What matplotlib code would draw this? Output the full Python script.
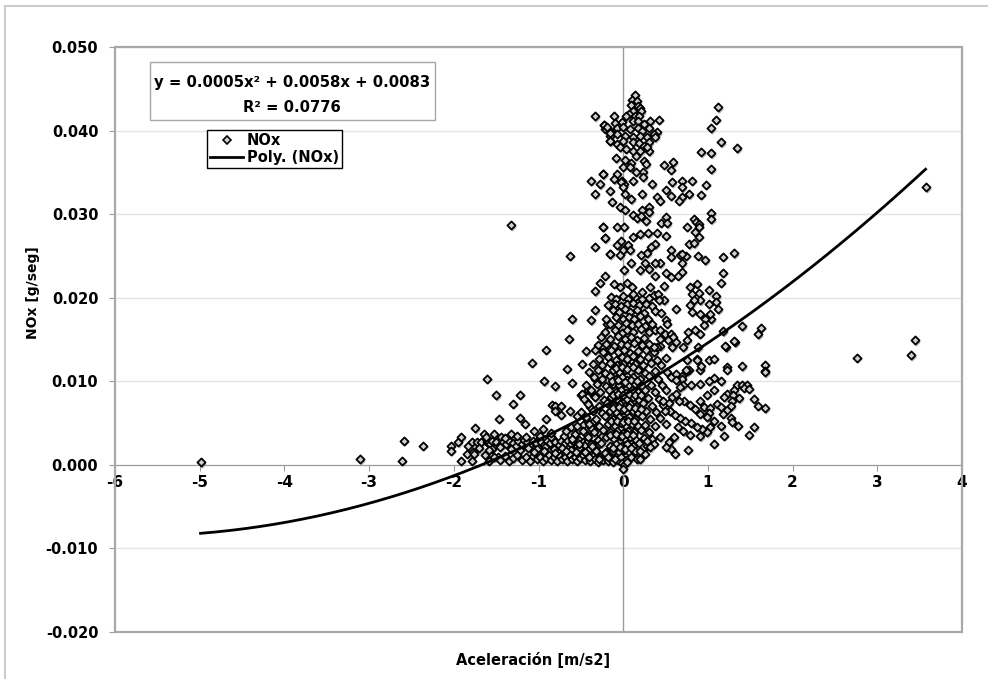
import numpy as np
import matplotlib
matplotlib.use("Agg")
import matplotlib.pyplot as plt
from matplotlib.lines import Line2D
from matplotlib.patches import Rectangle
from matplotlib.transforms import offset_copy

plt.rcParams["font.family"] = ["DejaVu Sans"]
plt.rcParams["font.weight"] = "bold"
plt.rcParams["axes.unicode_minus"] = False

# --- data (aceleracion m/s2, NOx g/seg) ---
outliers = [(-4.99, 0.0003), (-3.11, 0.0007), (-2.61, 0.0005), (-2.59, 0.0029),
            (-2.36, 0.0023), (-1.33, 0.0287), (2.76, 0.0128), (3.40, 0.0131),
            (3.45, 0.0149), (3.57, 0.0332)]

top_cluster = [
    (0.145, 0.0442), (0.10, 0.0436), (0.16, 0.0435), (0.09, 0.0431), (0.17, 0.0429),
    (0.20, 0.0427), (0.12, 0.0424), (0.21, 0.0423), (0.07, 0.0420), (-0.11, 0.0417),
    (0.035, 0.0417), (0.14, 0.0418), (0.19, 0.0418), (0.42, 0.0413), (-0.23, 0.0407),
    (-0.10, 0.0409), (-0.01, 0.0410), (0.11, 0.0411), (0.17, 0.0411), (0.32, 0.0411),
    (0.24, 0.0408), (-0.22, 0.0402), (-0.16, 0.0400), (-0.07, 0.0403), (0.0, 0.0404),
    (0.08, 0.0402), (0.17, 0.0403), (0.22, 0.0400), (0.31, 0.0403), (0.40, 0.0398),
    (0.36, 0.0396), (-0.16, 0.0393), (-0.07, 0.0396), (0.02, 0.0393), (0.11, 0.0392),
    (0.20, 0.0394), (0.28, 0.0392), (0.37, 0.0392), (-0.15, 0.0387), (-0.07, 0.0384),
    (0.0, 0.0387), (0.11, 0.0386), (0.19, 0.0385), (0.30, 0.0386), (0.25, 0.0381),
    (-0.04, 0.0380), (0.035, 0.0378), (0.12, 0.0375), (0.20, 0.0375), (0.30, 0.0375),
    (0.28, 0.0380), (-0.09, 0.0367), (0.02, 0.0365), (0.09, 0.0361), (0.15, 0.0370),
    (0.24, 0.0364), (0.27, 0.0360), (0.0, 0.0357), (0.08, 0.0356), (-0.24, 0.0348),
    (-0.07, 0.0348), (-0.11, 0.0342), (-0.02, 0.0340), (0.01, 0.0336), (0.12, 0.0340),
    (0.23, 0.0350), (0.23, 0.0344), (0.15, 0.0351), (0.48, 0.0359), (0.59, 0.0362),
    (0.56, 0.0353), (0.92, 0.0374), (1.04, 0.0373), (1.15, 0.0386), (1.34, 0.0379),
    (1.04, 0.0354), (1.04, 0.0403), (1.10, 0.0413), (1.12, 0.0428), (-0.33, 0.0417),
    (-0.23, 0.0407), (-0.19, 0.0404), (-0.16, 0.0397), (-0.16, 0.0388), (-0.38, 0.0340),
    (-0.27, 0.0336), (-0.24, 0.0348), (-0.33, 0.0324), (-0.16, 0.0328),
]

upper_spread = [
    (-0.03, 0.0338), (0.0, 0.0332), (0.34, 0.0336), (0.58, 0.0338), (0.70, 0.0340),
    (0.81, 0.0340), (0.98, 0.0335), (0.02, 0.0324), (0.09, 0.0318), (0.22, 0.0324),
    (0.40, 0.0321), (0.43, 0.0316), (0.51, 0.0329), (0.56, 0.0322), (0.70, 0.0332),
    (0.78, 0.0324), (0.92, 0.0323), (0.70, 0.0320), (0.66, 0.0316), (-0.13, 0.0315),
    (-0.04, 0.0308), (0.02, 0.0305), (0.12, 0.0299), (0.16, 0.0295), (0.22, 0.0305),
    (0.31, 0.0308), (0.31, 0.0302), (0.21, 0.0298), (0.27, 0.0292), (0.50, 0.0297),
    (0.45, 0.0290), (0.52, 0.0289), (0.84, 0.0294), (0.86, 0.0291), (0.89, 0.0288),
    (0.89, 0.0285), (0.85, 0.0279), (0.90, 0.0273), (0.78, 0.0264), (0.84, 0.0265),
    (1.04, 0.0301), (1.04, 0.0294), (0.75, 0.0285), (-0.24, 0.0285), (-0.07, 0.0285),
    (0.01, 0.0285), (-0.22, 0.0271), (-0.07, 0.0263), (-0.03, 0.0268), (0.06, 0.0263),
    (0.0, 0.0257), (0.08, 0.0257), (0.12, 0.0273), (0.20, 0.0276), (0.29, 0.0277),
    (0.40, 0.0278), (0.51, 0.0274), (0.37, 0.0264), (0.33, 0.0261), (0.28, 0.0253),
    (0.21, 0.0251), (0.56, 0.0257), (0.56, 0.0249), (0.67, 0.0251), (0.74, 0.0250),
    (0.88, 0.0250), (0.96, 0.0245), (0.70, 0.0241), (0.70, 0.0231), (0.57, 0.0225),
    (0.43, 0.0241), (0.37, 0.0241), (1.18, 0.0249), (1.31, 0.0253), (1.18, 0.0230),
    (-0.16, 0.0252), (-0.04, 0.0251), (0.01, 0.0233), (0.09, 0.0241), (0.20, 0.0233),
    (0.26, 0.0241), (0.30, 0.0234), (0.37, 0.0226), (0.50, 0.0230), (0.65, 0.0226),
    (-0.24, 0.0285), (-0.22, 0.0271), (-0.33, 0.0261), (-0.16, 0.0252), (-0.63, 0.0250),
    (-0.22, 0.0226), (0.70, 0.0252),
]

left_band = [
    (-2.03, 0.0023), (-2.03, 0.0017), (-1.95, 0.0027), (-1.91, 0.0033), (-1.91, 0.0005),
    (-1.85, 0.0013), (-1.83, 0.0023), (-1.78, 0.0005), (-1.77, 0.0015), (-1.76, 0.0013),
    (-1.75, 0.0044), (-1.78, 0.0027), (-1.73, 0.0027), (-1.68, 0.0027), (-1.64, 0.0037),
    (-1.63, 0.0012), (-1.61, 0.0027), (-1.60, 0.0029), (-1.57, 0.0025), (-1.55, 0.0019),
    (-1.55, 0.0029), (-1.52, 0.0037), (-1.50, 0.0027), (-1.48, 0.0010), (-1.46, 0.0024),
    (-1.44, 0.0033), (-1.42, 0.0027), (-1.38, 0.0025), (-1.35, 0.0029), (-1.33, 0.0037),
    (-1.30, 0.0026), (-1.27, 0.0022), (-1.24, 0.0028), (-1.20, 0.0025), (-1.17, 0.0030),
    (-1.13, 0.0027), (-1.10, 0.0024), (-1.07, 0.0029), (-1.03, 0.0026), (-1.00, 0.0031),
    (-0.97, 0.0027), (-0.93, 0.0024), (-0.90, 0.0029), (-0.86, 0.0026), (-0.83, 0.0031),
    (-0.80, 0.0027), (-0.76, 0.0024), (-0.73, 0.0029), (-0.69, 0.0026), (-0.66, 0.0030),
    (-0.62, 0.0025), (-0.59, 0.0028), (-0.55, 0.0023), (-0.52, 0.0030), (-0.48, 0.0027),
    (-0.45, 0.0024), (-0.41, 0.0029), (-0.38, 0.0025), (-0.34, 0.0022), (-0.31, 0.0028),
    (-0.28, 0.0025), (-1.70, 0.0020), (-1.58, 0.0018), (-1.45, 0.0021), (-1.33, 0.0019),
    (-1.22, 0.0018), (-1.12, 0.0020), (-1.02, 0.0019), (-0.92, 0.0021), (-0.82, 0.0019),
    (-0.72, 0.0020), (-0.62, 0.0018), (-0.52, 0.0020), (-0.42, 0.0018), (-1.62, 0.0033),
    (-1.40, 0.0032), (-1.25, 0.0034), (-1.15, 0.0033), (-0.98, 0.0035), (-0.85, 0.0033),
    (-0.70, 0.0034), (-0.58, 0.0032),
    (-1.58, 0.0005), (-1.52, 0.0009), (-1.45, 0.0006), (-1.40, 0.0011), (-1.35, 0.0005),
    (-1.30, 0.0008), (-1.25, 0.0012), (-1.20, 0.0006), (-1.15, 0.0009), (-1.10, 0.0005),
    (-1.06, 0.0011), (-1.02, 0.0007), (-0.98, 0.0010), (-0.95, 0.0005), (-0.91, 0.0008),
    (-0.88, 0.0012), (-0.85, 0.0006), (-0.82, 0.0009), (-0.78, 0.0005), (-0.75, 0.0011),
    (-0.72, 0.0007), (-0.69, 0.0009), (-0.66, 0.0005), (-0.63, 0.0012), (-0.60, 0.0007),
    (-0.57, 0.0010), (-0.54, 0.0005), (-0.51, 0.0008), (-0.48, 0.0012), (-0.45, 0.0006),
    (-0.42, 0.0009), (-0.39, 0.0005), (-0.36, 0.0011), (-0.33, 0.0007), (-0.30, 0.0004),
    (-0.27, 0.0010), (-0.24, 0.0006), (-0.21, 0.0012), (-0.18, 0.0005), (-0.15, 0.0009),
    (-0.12, 0.0004), (-0.09, 0.0011), (-0.06, 0.0006), (-1.05, 0.0015), (-0.93, 0.0016),
    (-0.80, 0.0014), (-0.68, 0.0016), (-0.56, 0.0015), (-0.44, 0.0014), (-0.32, 0.0016),
    (-0.20, 0.0015),
]

mid_left = [
    (-1.61, 0.0103), (-1.50, 0.0083), (-1.30, 0.0073), (-1.22, 0.0084), (-1.22, 0.0056),
    (-1.16, 0.0049), (-1.47, 0.0055), (-1.08, 0.0122), (-0.91, 0.0138), (-0.94, 0.0100),
    (-0.80, 0.0094), (-0.84, 0.0072), (-0.80, 0.0071), (-0.74, 0.0071), (-0.80, 0.0065),
    (-0.74, 0.0060), (-0.91, 0.0055), (-0.63, 0.0064), (-0.64, 0.0151), (-0.60, 0.0174),
    (-0.66, 0.0115), (-0.60, 0.0098), (-0.49, 0.0121), (-0.44, 0.0136), (-0.38, 0.0173),
    (-0.33, 0.0185), (-0.33, 0.0208), (-0.27, 0.0218), (-0.19, 0.0168), (-0.30, 0.0141),
    (-0.24, 0.0141), (-0.21, 0.0134), (-0.50, 0.0084), (-0.55, 0.0058), (-0.44, 0.0056),
    (-0.41, 0.0089), (-0.38, 0.0087), (-0.35, 0.0082), (-0.33, 0.0103), (-0.49, 0.0085),
    (-0.43, 0.0075), (-0.39, 0.0069), (-0.68, 0.0040), (-0.62, 0.0045), (-0.57, 0.0037),
    (-0.52, 0.0042), (-0.47, 0.0048), (-0.43, 0.0036), (-0.38, 0.0044), (-0.34, 0.0052),
    (-0.30, 0.0039), (-0.95, 0.0043), (-1.05, 0.0040), (-0.85, 0.0038),
]

core = [
    (-0.14, 0.0201), (-0.08, 0.0198), (0.0, 0.0202), (0.06, 0.0199), (0.14, 0.0201), (0.22, 0.0198), (0.30, 0.0200),
    (-0.18, 0.0191), (-0.10, 0.0193), (-0.03, 0.0190), (0.04, 0.0192), (0.11, 0.0194), (0.19, 0.0191), (0.27, 0.0193), (0.34, 0.0190),
    (-0.12, 0.0185), (-0.05, 0.0183), (0.02, 0.0186), (0.08, 0.0183), (0.16, 0.0185), (0.24, 0.0182), (0.38, 0.0184),
    (-0.20, 0.0175), (-0.08, 0.0177), (0.0, 0.0174), (0.07, 0.0177), (0.13, 0.0175), (0.20, 0.0178), (0.29, 0.0175),
    (-0.15, 0.0169), (-0.06, 0.0167), (0.03, 0.0170), (0.10, 0.0167), (0.18, 0.0169), (0.26, 0.0166), (0.34, 0.0168),
    (-0.22, 0.0159), (-0.10, 0.0161), (-0.02, 0.0158), (0.05, 0.0161), (0.12, 0.0159), (0.21, 0.0162), (0.30, 0.0159), (0.38, 0.0161),
    (-0.26, 0.0153), (-0.16, 0.0151), (-0.06, 0.0154), (0.02, 0.0151), (0.09, 0.0153), (0.16, 0.0150), (0.25, 0.0152),
    (-0.30, 0.0143), (-0.20, 0.0145), (-0.11, 0.0142), (-0.03, 0.0145), (0.05, 0.0143), (0.13, 0.0146), (0.22, 0.0143), (0.31, 0.0145), (0.44, 0.0142),
    (-0.33, 0.0137), (-0.24, 0.0135), (-0.14, 0.0138), (-0.06, 0.0135), (0.01, 0.0137), (0.08, 0.0134), (0.17, 0.0136), (0.27, 0.0138), (0.36, 0.0135),
    (-0.28, 0.0127), (-0.18, 0.0129), (-0.09, 0.0126), (-0.02, 0.0129), (0.05, 0.0127), (0.12, 0.0130), (0.20, 0.0127), (0.29, 0.0129), (0.40, 0.0126), (0.50, 0.0128),
    (-0.36, 0.0121), (-0.25, 0.0119), (-0.15, 0.0122), (-0.07, 0.0119), (0.0, 0.0121), (0.07, 0.0118), (0.14, 0.0121), (0.23, 0.0119), (0.33, 0.0122), (0.45, 0.0119),
    (-0.40, 0.0111), (-0.30, 0.0113), (-0.21, 0.0110), (-0.12, 0.0113), (-0.05, 0.0111), (0.02, 0.0114), (0.09, 0.0111), (0.17, 0.0113), (0.26, 0.0110), (0.37, 0.0112), (0.52, 0.0111),
    (-0.34, 0.0105), (-0.25, 0.0103), (-0.16, 0.0106), (-0.09, 0.0103), (-0.02, 0.0105), (0.05, 0.0102), (0.12, 0.0105), (0.20, 0.0103), (0.30, 0.0106), (0.41, 0.0103), (0.56, 0.0105),
    (-0.44, 0.0095), (-0.31, 0.0097), (-0.20, 0.0094), (-0.12, 0.0097), (-0.05, 0.0095), (0.01, 0.0098), (0.07, 0.0095), (0.14, 0.0097), (0.22, 0.0094), (0.33, 0.0096), (0.46, 0.0095),
    (-0.38, 0.0089), (-0.27, 0.0087), (-0.17, 0.0090), (-0.09, 0.0087), (-0.03, 0.0089), (0.03, 0.0086), (0.10, 0.0089), (0.17, 0.0087), (0.26, 0.0090), (0.38, 0.0087), (0.51, 0.0089),
    (-0.46, 0.0079), (-0.33, 0.0081), (-0.23, 0.0078), (-0.14, 0.0081), (-0.07, 0.0079), (-0.01, 0.0082), (0.05, 0.0079), (0.12, 0.0081), (0.19, 0.0078), (0.29, 0.0080), (0.42, 0.0079), (0.58, 0.0081),
    (-0.41, 0.0073), (-0.29, 0.0071), (-0.19, 0.0074), (-0.11, 0.0071), (-0.04, 0.0073), (0.02, 0.0070), (0.08, 0.0073), (0.15, 0.0071), (0.23, 0.0074), (0.34, 0.0071), (0.47, 0.0072),
    (-0.50, 0.0063), (-0.36, 0.0065), (-0.25, 0.0062), (-0.15, 0.0065), (-0.08, 0.0063), (-0.02, 0.0066), (0.04, 0.0063), (0.11, 0.0065), (0.18, 0.0062), (0.27, 0.0064), (0.39, 0.0063), (0.55, 0.0065),
    (-0.44, 0.0057), (-0.32, 0.0055), (-0.21, 0.0058), (-0.12, 0.0055), (-0.05, 0.0057), (0.01, 0.0054), (0.07, 0.0057), (0.14, 0.0055), (0.22, 0.0058), (0.32, 0.0055), (0.44, 0.0056),
    (-0.55, 0.0047), (-0.40, 0.0049), (-0.28, 0.0046), (-0.18, 0.0049), (-0.10, 0.0047), (-0.03, 0.0050), (0.03, 0.0047), (0.10, 0.0049), (0.17, 0.0046), (0.26, 0.0048), (0.37, 0.0047), (0.50, 0.0049),
    (-0.48, 0.0041), (-0.35, 0.0039), (-0.24, 0.0042), (-0.15, 0.0039), (-0.07, 0.0041), (0.0, 0.0038), (0.06, 0.0041), (0.13, 0.0039), (0.21, 0.0042), (0.31, 0.0039),
    (-0.60, 0.0031), (-0.42, 0.0033), (-0.30, 0.0030), (-0.20, 0.0033), (-0.11, 0.0031), (-0.04, 0.0034), (0.02, 0.0031), (0.08, 0.0033), (0.15, 0.0030), (0.24, 0.0032), (0.34, 0.0031),
    (-0.52, 0.0025), (-0.37, 0.0023), (-0.26, 0.0026), (-0.16, 0.0023), (-0.08, 0.0025), (-0.01, 0.0022), (0.05, 0.0025), (0.12, 0.0023), (0.19, 0.0026), (0.28, 0.0023),
    (-0.45, 0.0015), (-0.32, 0.0017), (-0.21, 0.0014), (-0.12, 0.0017), (-0.05, 0.0015), (0.01, 0.0018), (0.07, 0.0015), (0.14, 0.0017), (0.22, 0.0014),
    (-0.40, 0.0009), (-0.28, 0.0007), (-0.18, 0.0010), (-0.10, 0.0007), (-0.03, 0.0009), (0.03, 0.0006), (0.09, 0.0009), (0.16, 0.0007),
    (-0.02, 0.0002), (0.01, 0.0000), (0.04, 0.0003), (0.0, -0.0005),
    (-0.09, 0.0116), (-0.02, 0.0117), (0.05, 0.0115), (0.12, 0.0117),
    (-0.13, 0.0100), (-0.06, 0.0101), (0.02, 0.0099), (0.09, 0.0101), (0.16, 0.0100),
    (-0.12, 0.0084), (-0.06, 0.0085), (0.0, 0.0083), (0.07, 0.0085), (0.14, 0.0084), (0.21, 0.0083),
    (-0.12, 0.0068), (-0.05, 0.0069), (0.01, 0.0067), (0.07, 0.0069), (0.14, 0.0068), (0.21, 0.0067),
    (-0.14, 0.0052), (-0.07, 0.0053), (0.0, 0.0051), (0.06, 0.0053), (0.13, 0.0052),
    (-0.15, 0.0036), (-0.08, 0.0037), (-0.01, 0.0035), (0.05, 0.0037), (0.11, 0.0036),
    (-0.12, 0.0020), (-0.04, 0.0021), (0.02, 0.0019), (0.09, 0.0020),
]

right_spread = [
    (1.15, 0.0218), (1.18, 0.0160), (1.40, 0.0166), (1.59, 0.0156), (1.63, 0.0164),
    (1.32, 0.0147), (1.21, 0.0141), (1.67, 0.0120), (1.67, 0.0112), (1.40, 0.0118),
    (1.23, 0.0117), (1.23, 0.0114), (1.01, 0.0126), (1.07, 0.0127), (0.87, 0.0127),
    (0.91, 0.0114), (0.78, 0.0114), (0.70, 0.0106), (0.69, 0.0103), (0.62, 0.0109),
    (1.07, 0.0104), (1.15, 0.0100), (1.01, 0.0100), (0.91, 0.0097), (0.80, 0.0095),
    (0.71, 0.0095), (0.67, 0.0093), (0.62, 0.0101), (1.34, 0.0095), (1.40, 0.0096),
    (1.46, 0.0096), (1.43, 0.0092), (1.48, 0.0091), (1.31, 0.0089), (1.22, 0.0085),
    (1.19, 0.0081), (1.30, 0.0084), (1.28, 0.0077), (1.37, 0.0080), (1.54, 0.0079),
    (1.59, 0.0071), (1.68, 0.0068), (1.07, 0.0090), (0.99, 0.0084), (1.11, 0.0073),
    (1.15, 0.0069), (1.22, 0.0066), (1.27, 0.0070), (1.18, 0.0061), (1.27, 0.0056),
    (1.35, 0.0047), (1.29, 0.0051), (1.15, 0.0046), (1.19, 0.0035), (1.48, 0.0036),
    (1.54, 0.0045), (0.91, 0.0077), (0.95, 0.0069), (1.03, 0.0068), (1.01, 0.0062),
    (0.91, 0.0061), (0.85, 0.0067), (0.79, 0.0072), (0.72, 0.0077), (0.66, 0.0077),
    (0.62, 0.0085), (0.54, 0.0074), (0.47, 0.0077), (0.99, 0.0057), (1.07, 0.0053),
    (1.03, 0.0045), (0.99, 0.0039), (0.93, 0.0043), (0.87, 0.0045), (0.80, 0.0050),
    (0.73, 0.0053), (0.67, 0.0056), (0.61, 0.0060), (0.55, 0.0065), (0.49, 0.0065),
    (1.07, 0.0025), (0.76, 0.0018), (0.91, 0.0034), (0.79, 0.0036), (0.71, 0.0040),
    (0.65, 0.0045), (0.60, 0.0033), (0.54, 0.0027), (0.61, 0.0013), (0.57, 0.0019),
    (0.50, 0.0021), (0.44, 0.0033), (0.36, 0.0025), (0.32, 0.0021), (0.28, 0.0028),
    (0.20, 0.0007), (0.26, 0.0013), (0.20, 0.0017),
    (-0.11, 0.0217), (-0.04, 0.0213), (0.04, 0.0218), (0.10, 0.0213), (0.12, 0.0205),
    (0.22, 0.0207), (0.32, 0.0213), (0.36, 0.0203), (0.41, 0.0205), (0.48, 0.0214),
    (0.48, 0.0197), (0.42, 0.0197), (0.79, 0.0213), (0.81, 0.0205), (0.87, 0.0217),
    (0.90, 0.0206), (0.91, 0.0197), (0.84, 0.0197), (0.79, 0.0191), (0.81, 0.0183),
    (0.91, 0.0181), (1.01, 0.0193), (1.01, 0.0209), (1.10, 0.0202), (1.10, 0.0195),
    (1.12, 0.0186), (1.04, 0.0174), (0.96, 0.0174), (0.95, 0.0167), (1.03, 0.0181),
    (0.62, 0.0187), (0.45, 0.0182), (0.50, 0.0173), (0.52, 0.0169), (0.44, 0.0161),
    (0.49, 0.0157), (0.56, 0.0157), (0.59, 0.0153), (0.53, 0.0149), (0.44, 0.0151),
    (0.40, 0.0141), (0.36, 0.0141), (0.58, 0.0141), (0.62, 0.0147), (0.75, 0.0149),
    (0.71, 0.0141), (0.88, 0.0141), (0.76, 0.0159), (0.85, 0.0161), (0.91, 0.0157),
    (0.75, 0.0125), (0.75, 0.0112), (1.20, 0.0142), (1.31, 0.0148), (1.68, 0.0111),
    (0.92, 0.0118), (0.87, 0.0126), (0.74, 0.0114),
]

# Excel polynomial trendline as printed on the chart
trend_coef = [0.0005, 0.0058, 0.0083]
trend_r2 = 0.0776

points = outliers + top_cluster + upper_spread + left_band + mid_left + core + right_spread
xs = np.array([p[0] for p in points])
ys = np.array([p[1] for p in points])

fig = plt.figure(figsize=(9.88, 6.79), dpi=100)
ax = fig.add_axes([115 / 988, 1 - 632 / 679, 847 / 988, 585 / 679])

# marker shadow then markers
shadow = offset_copy(ax.transData, fig=fig, x=1.0, y=-1.5, units="dots")
ax.scatter(xs, ys, marker="D", s=18, color="#b0b0b0", linewidths=0,
           transform=shadow, zorder=2)
ax.scatter(xs, ys, marker="D", s=17, facecolor="#cfcfcf", edgecolor="black",
           linewidths=1.3, zorder=3)

tx = np.linspace(xs.min(), xs.max(), 200)
ax.plot(tx, np.polyval(trend_coef, tx), color="black", lw=2.0, zorder=4)

ax.set_xlim(-6, 4)
ax.set_ylim(-0.02, 0.05)
ax.set_xticks(range(-6, 5))
ax.set_yticks(np.arange(-0.02, 0.0501, 0.01))
ax.yaxis.set_major_formatter(matplotlib.ticker.FormatStrFormatter("%.3f"))
ax.yaxis.grid(True, color="#e4e4e4", lw=1)
ax.set_axisbelow(True)

for side in ["top", "right", "left"]:
    ax.spines[side].set_visible(False)
ax.spines["bottom"].set_position(("data", 0))
ax.spines["bottom"].set_color("#9a9a9a")
ax.axvline(0, color="#9a9a9a", lw=1, zorder=1)
ax.add_patch(Rectangle((0, 0), 1, 1, transform=ax.transAxes, fill=False,
                       edgecolor="#a8a8a8", lw=1.6, clip_on=False, zorder=5))

ax.tick_params(axis="x", direction="out", length=4, color="#9a9a9a",
               labelsize=11, pad=3)
ax.tick_params(axis="y", direction="out", length=4, color="#9a9a9a",
               labelsize=10.5, pad=8)
for lab in ax.get_xticklabels() + ax.get_yticklabels():
    lab.set_fontweight("bold")

ax.set_ylabel("NOx [g/seg]", fontsize=10, fontweight="bold")
ax.yaxis.set_label_coords(-0.088, 0.58)
fig.text(533 / 988, 1 - 660 / 679, "Aceleración [m/s2]", ha="center",
         va="center", fontsize=10.5, fontweight="bold")

# equation box
ax.add_patch(Rectangle((0.0413, 0.875), 0.3365, 0.0991, transform=ax.transAxes,
                       facecolor="white", edgecolor="#a8a8a8", lw=1, zorder=6))
ax.text(0.209, 0.940, "y = 0.0005x² + 0.0058x + 0.0083", transform=ax.transAxes,
        ha="center", va="center", fontsize=10.7, fontweight="bold", zorder=7)
ax.text(0.209, 0.897, f"R² = {trend_r2}", transform=ax.transAxes,
        ha="center", va="center", fontsize=10.7, fontweight="bold", zorder=7)

handles = [
    Line2D([], [], marker="D", markersize=3.8, markerfacecolor="#cfcfcf",
           markeredgecolor="black", markeredgewidth=1.2, linestyle="none"),
    Line2D([], [], color="black", lw=2.0),
]
leg = ax.legend(handles, ["NOx", "Poly. (NOx)"], loc="upper left",
                bbox_to_anchor=(0.1086, 0.858), borderaxespad=0, fancybox=False,
                framealpha=1, edgecolor="black", prop={"weight": "bold", "size": 10.5},
                handlelength=2.3, handletextpad=0.25, borderpad=0.2, labelspacing=0.15)
leg.get_frame().set_linewidth(1.0)
leg.set_zorder(7)

# outer chart frame (top and left only visible)
fig.add_artist(Line2D([5 / 988, 1], [1 - 6 / 679, 1 - 6 / 679], color="#cccccc", lw=1.5))
fig.add_artist(Line2D([5 / 988, 5 / 988], [0, 1 - 6 / 679], color="#cccccc", lw=1.5))

fig.savefig("out.png", dpi=100, facecolor="white")
